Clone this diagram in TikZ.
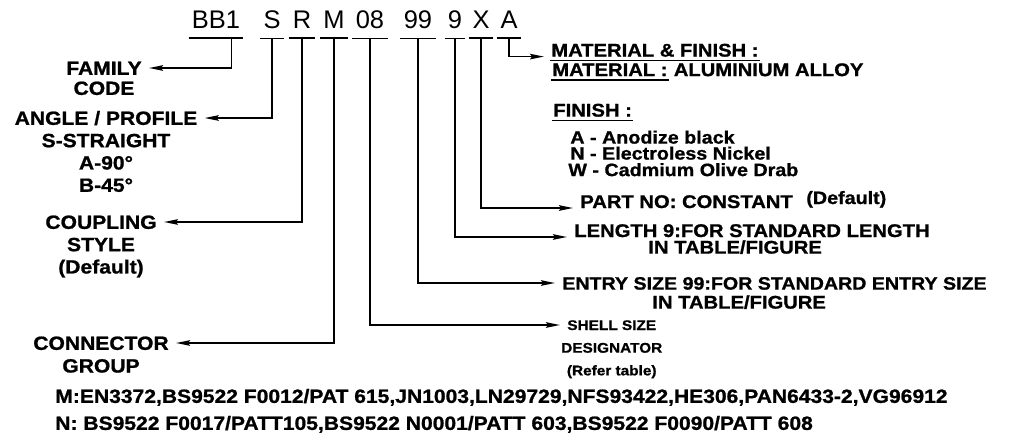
\documentclass[tikz,border=0pt]{standalone}
\usepackage{fontspec}
\usetikzlibrary{arrows.meta,positioning}
\newfontfamily\codefont{Liberation Sans}
\newfontfamily\lblfont{Liberation Sans}[FakeStretch=1.1,FakeBold=1]
\tikzset{
  code/.style={font=\codefont\fontsize{14.5}{17}\selectfont,anchor=base,
    inner xsep=0.06cm,inner ysep=0.2cm},
  lbl/.style={font=\lblfont\bfseries\fontsize{10.45}{12}\selectfont,
    inner sep=0pt,text height=7.5pt,text depth=0pt},
  biglbl/.style={lbl,font=\lblfont\bfseries\fontsize{10.9}{12}\selectfont,
    text height=7.8pt},
  finlbl/.style={lbl,font=\lblfont\bfseries\fontsize{10.2}{12}\selectfont},
  smalllbl/.style={lbl,font=\lblfont\bfseries\fontsize{7.95}{9}\selectfont,
    text height=5.7pt},
  codeline/.style={line width=1pt},
  uline/.style={line width=0.9pt,shorten <=-0.5pt,shorten >=-0.5pt},
  arrow/.style={-{Stealth[length=2.8mm,width=1.1mm,inset=0.4mm]},
    line width=1pt,shorten >=0.14cm}
}
\begin{document}
\begin{tikzpicture}[x=0.02cm,y=-0.02cm]
  \useasboundingbox (0,0) rectangle (1035,447);
  % part number
  \node[code] (bb) at (216,28) {BB1};
  \node[code] (s) at (272,28) {S};
  \node[code] (r) at (302,28) {R};
  \node[code] (m) at (334,28) {M};
  \node[code] (n08) at (370,28) {08};
  \node[code] (n99) at (418,28) {99};
  \node[code] (n9) at (455,28) {9};
  \node[code] (x) at (481,28) {X};
  \node[code] (a) at (509,28) {A};
  \foreach \p in {bb,s,r,m,n08,n99,n9,x,a}
    \draw[codeline] (\p.south west) -- (\p.south east);
  % left side
  \node[biglbl] (family) at (104,68) {FAMILY};
  \node[biglbl,below=3.2pt of family] (familyb) {CODE};
  \node[biglbl] (angle) at (106,118) {ANGLE / PROFILE};
  \node[biglbl,below=4.5pt of angle] (angleb) {S-STRAIGHT};
  \node[biglbl,below=4.5pt of angleb] (anglec) {A-90°};
  \node[biglbl,below=4.5pt of anglec] (angled) {B-45°};
  \node[biglbl] (coupling) at (101,222) {COUPLING};
  \node[biglbl,below=4.5pt of coupling] (couplingb) {STYLE};
  \node[biglbl,below=4.5pt of couplingb] (couplingc) {(Default)};
  \node[biglbl] (connector) at (101,343) {CONNECTOR};
  \node[biglbl,below=4.7pt of connector] (connectorb) {GROUP};
  % right side
  \node[lbl,anchor=west] (matfin) at (551,50) {MATERIAL \& FINISH :};
  \node[lbl,anchor=west] (mat) at (552,69.5) {MATERIAL :};
  \node[lbl,right=0pt of mat] (alu) {\ ALUMINIUM ALLOY};
  \node[lbl,anchor=west] (fin) at (553,110) {FINISH :};
  \foreach \p in {matfin,mat,fin}
    \draw[uline] ([yshift=-2pt]\p.south west) -- ([yshift=-2pt]\p.south east);
  \node[finlbl,anchor=west] (finA) at (570,137) {A - Anodize black};
  \node[finlbl,anchor=west] (finN) at (570,153) {N - Electroless Nickel};
  \node[finlbl,anchor=west] (finW) at (568,169.5) {W - Cadmium Olive Drab};
  \node[lbl,anchor=base west] (part) at (580,208) {PART NO: CONSTANT};
  \node[finlbl,anchor=base west] (partdef) at (806,204) {(Default)};
  \node[lbl,anchor=base west] (len) at (574,237) {LENGTH 9:FOR STANDARD LENGTH};
  \node[lbl,anchor=west] (lenb) at (648,247) {IN TABLE/FIGURE};
  \node[lbl,anchor=west,font=\lblfont\bfseries\fontsize{10.15}{12}\selectfont]
    (entry) at (562,283) {ENTRY SIZE 99:FOR STANDARD ENTRY SIZE};
  \node[lbl,anchor=west] (entryb) at (652,302) {IN TABLE/FIGURE};
  \node[smalllbl,anchor=west] (shell) at (567,325) {SHELL SIZE};
  \node[smalllbl,below=6.8pt of shell] (shellb) {DESIGNATOR};
  \node[smalllbl,below=6.8pt of shellb] (shellc) {(Refer table)};
  % standards
  \node[biglbl,anchor=west] (mstd) at (55,396)
    {M:EN3372,BS9522 F0012/PAT 615,JN1003,LN29729,NFS93422,HE306,PAN6433-2,VG96912};
  \node[biglbl,anchor=west] (nstd) at (55,423)
    {N: BS9522 F0017/PATT105,BS9522 N0001/PATT 603,BS9522 F0090/PATT 608};
  % connectors
  \draw[arrow] ([xshift=0.31cm]bb.south) |- (family);
  \draw[arrow] (s.south) |- (angle);
  \draw[arrow] (r.south) |- (coupling);
  \draw[arrow] (m.south) |- (connector);
  \draw[arrow] (n08.south) |- (shell);
  \draw[arrow] (n99.south) |- (entry);
  \draw[arrow] (n9.south) |- (len.base west);
  \draw[arrow] (x.south) |- (part.base west);
  \draw[arrow] (a.south) |- (matfin.base west);
\end{tikzpicture}
\end{document}
